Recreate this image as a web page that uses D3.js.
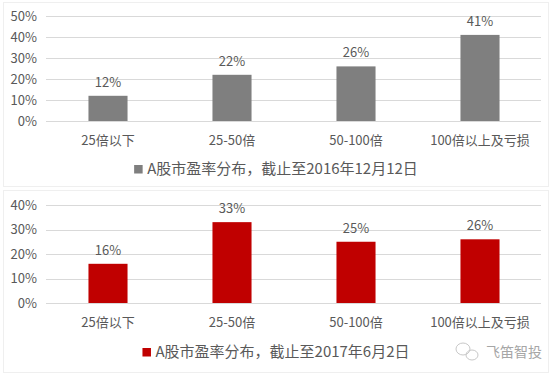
<!DOCTYPE html>
<html>
<head>
<meta charset="utf-8">
<script src="https://cdn.jsdelivr.net/npm/d3@7"></script>
<style>
  html, body { margin: 0; padding: 0; background: #fff; }
  svg text { font-family: "Noto Sans CJK SC", "Noto Sans", sans-serif; }
</style>
</head>
<body>
<svg id="chart" width="554" height="375"></svg>
<script>
const categories = ["25倍以下", "25-50倍", "50-100倍", "100倍以上及亏损"];
const values2016 = [12, 22, 26, 41];
const values2017 = [16, 33, 25, 26];
const ticks2016 = [0, 10, 20, 30, 40, 50];
const ticks2017 = [0, 10, 20, 30, 40];
const legend2016 = "A股市盈率分布，截止至2016年12月12日";
const legend2017 = "A股市盈率分布，截止至2017年6月2日";

const W = 554, H = 375;
const svg = d3.select("#chart");
const txt = "#595959";

function panel(o) {
  const g = svg.append("g");

  // faint frame
  g.append("rect")
    .attr("x", 3.5).attr("y", o.frame[0] + 0.5)
    .attr("width", W - 9).attr("height", o.frame[1] - o.frame[0])
    .attr("fill", "none").attr("stroke", "#efefef");

  const x = d3.scaleBand().domain(categories).range([46, 542])
    .paddingInner(0.685).paddingOuter(0.3425);
  const y = d3.scaleLinear().domain([0, o.max]).range([o.y0, o.y1]);

  // gridlines
  g.append("g").selectAll("line").data(o.ticks).join("line")
    .attr("x1", 46).attr("x2", 541)
    .attr("y1", d => Math.round(y(d)) + 0.5).attr("y2", d => Math.round(y(d)) + 0.5)
    .attr("stroke", "#d9d9d9");

  // y tick labels
  g.append("g").selectAll("text").data(o.ticks).join("text")
    .attr("x", 37).attr("y", d => y(d) + 4.5)
    .attr("text-anchor", "end")
    .style("font-size", "13px").style("fill", txt)
    .text(d => d + "%");

  // bars
  g.append("g").selectAll("rect").data(o.values).join("rect")
    .attr("x", (d, i) => x(categories[i]))
    .attr("y", d => y(d))
    .attr("width", x.bandwidth())
    .attr("height", d => y(0) - y(d))
    .attr("fill", o.color);

  // value labels
  g.append("g").selectAll("text").data(o.values).join("text")
    .attr("x", (d, i) => x(categories[i]) + x.bandwidth() / 2)
    .attr("y", d => y(d) - 9)
    .attr("text-anchor", "middle")
    .style("font-size", "13px").style("fill", txt)
    .text(d => d + "%");

  // category labels
  g.append("g").selectAll("text").data(categories).join("text")
    .attr("x", d => x(d) + x.bandwidth() / 2)
    .attr("y", o.y0 + 24)
    .attr("text-anchor", "middle")
    .style("font-size", "13px").style("fill", txt)
    .text(d => d);

  // legend
  const lg = g.append("g");
  const lt = lg.append("text")
    .attr("y", o.legendY + 5)
    .style("font-size", "15px").style("fill", txt)
    .text(o.legend);
  const tw = lt.node().getComputedTextLength();
  const start = 276 - (tw + 13) / 2;
  lt.attr("x", start + 13);
  lg.append("rect")
    .attr("x", start).attr("y", o.legendY - 4)
    .attr("width", 8.5).attr("height", 8.5)
    .attr("fill", o.color);
}

panel({
  frame: [2, 186], values: values2016, ticks: ticks2016, max: 50,
  y0: 121, y1: 16, color: "#7f7f7f", legend: legend2016, legendY: 169
});
panel({
  frame: [190, 372], values: values2017, ticks: ticks2017, max: 40,
  y0: 303, y1: 205, color: "#c00000", legend: legend2017, legendY: 352
});

// watermark
const wm = svg.append("g").attr("fill", "none").attr("stroke", "#c8c8c8").attr("stroke-width", 1);
wm.append("ellipse").attr("cx", 463).attr("cy", 349).attr("rx", 7).attr("ry", 6);
wm.append("ellipse").attr("cx", 472).attr("cy", 355).attr("rx", 6).attr("ry", 5);
svg.append("text")
  .attr("x", 486).attr("y", 357)
  .style("font-size", "14px").style("fill", "#a6a6a6")
  .text("飞笛智投");
</script>
</body>
</html>
